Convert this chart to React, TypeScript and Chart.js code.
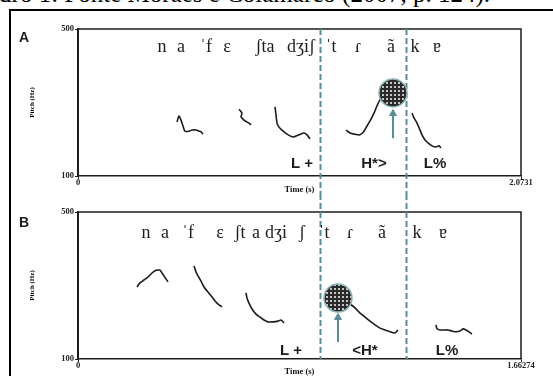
import React, { useEffect, useRef } from 'react';
import { Chart, registerables } from 'chart.js';

Chart.register(...registerables);

// ---------- data ----------
const durationA = 2.0731;
const durationB = 1.66274;
const pitchMin = 100;
const pitchMax = 500;

const trackA1: [number, number][] = [[0.4633, 247], [0.4727, 263], [0.482, 252], [0.4914, 236], [0.5007, 222], [0.5194, 222], [0.5335, 225], [0.5522, 225], [0.5662, 222], [0.5756, 220], [0.585, 214]];
const trackA2: [number, number][] = [[0.7534, 282], [0.7675, 271], [0.7628, 261], [0.7768, 252], [0.7908, 247], [0.8002, 244], [0.8096, 239]];
const trackA3: [number, number][] = [[0.9219, 288], [0.9266, 266], [0.9313, 244], [0.9406, 233], [0.9547, 225], [0.9781, 214], [1.0061, 206], [1.0342, 212], [1.0576, 217], [1.0717, 212], [1.0857, 201]];
const trackA4: [number, number][] = [[1.2542, 225], [1.2729, 217], [1.2916, 214], [1.3197, 212], [1.3384, 222], [1.3524, 236], [1.3712, 255], [1.3852, 271], [1.3992, 291], [1.4133, 307], [1.4273, 318]];
const trackA5: [number, number][] = [[1.563, 271], [1.5724, 258], [1.5864, 244], [1.6005, 225], [1.6098, 212], [1.6239, 198], [1.6379, 190], [1.6566, 182], [1.6753, 179], [1.6894, 182], [1.6987, 176]];
const peakA: [number, number] = [1.4741, 326];
const arrowA: [number, number][] = [[1.4741, 203], [1.4741, 270]];
const boundariesA = [1.1325, 1.5349];
const segmentsA: [string, number][] = [['n', 0.3931], ['a', 0.482], ['ˈf', 0.599], ['ɛ', 0.6973], ['ʃta', 0.8751], ['dʒiʃ', 1.0436], ['ˈt', 1.184], ['ɾ', 1.3103], ['ã', 1.4647], ['k', 1.5771], ['ɐ', 1.68]];
const tonesA: [string, number][] = [['L +', 1.0483], ['H*>', 1.3852], ['L%', 1.6707]];

const trackB1: [number, number][] = [[0.2214, 296], [0.2327, 307], [0.2477, 315], [0.2627, 323], [0.2778, 334], [0.289, 340], [0.3003, 342], [0.3078, 342], [0.3153, 334], [0.3228, 326], [0.3303, 318], [0.3378, 310]];
const trackB2: [number, number][] = [[0.4354, 353], [0.4429, 337], [0.4504, 326], [0.4617, 312], [0.4729, 296], [0.4879, 282], [0.503, 269], [0.518, 255], [0.5292, 247], [0.5405, 242]];
const trackB3: [number, number][] = [[0.6306, 280], [0.6343, 266], [0.6418, 252], [0.6531, 236], [0.6681, 222], [0.6831, 214], [0.6981, 206], [0.7131, 201], [0.7319, 201], [0.7507, 203], [0.7619, 206], [0.7732, 198]];
const trackB4: [number, number][] = [[1.0209, 250], [1.0397, 239], [1.0585, 225], [1.0773, 214], [1.096, 203], [1.1148, 193], [1.1335, 184], [1.1523, 179], [1.1711, 174], [1.1898, 171], [1.2011, 179]];
const trackB5: [number, number][] = [[1.3437, 193], [1.3475, 182], [1.3588, 179], [1.3737, 179], [1.3887, 179], [1.4038, 176], [1.4188, 174], [1.4338, 176], [1.4451, 182], [1.4564, 179], [1.4676, 174], [1.4788, 168]];
const peakB: [number, number] = [0.9759, 266];
const arrowB: [number, number][] = [[0.9759, 146], [0.9759, 213]];
const boundariesB = [0.9083, 1.2311];
const segmentsB: [string, number][] = [['n', 0.2552], ['a', 0.3265], ['ˈf', 0.4129], ['ɛ', 0.533], ['ʃt', 0.6081], ['a', 0.6681], ['dʒi', 0.7432], ['ʃ', 0.8408], ['ˈt', 0.9233], ['ɾ', 1.0209], ['ã', 1.141], ['k', 1.2724], ['ɐ', 1.37]];
const tonesB: [string, number][] = [['L +', 0.7995], ['<H*', 1.0772], ['L%', 1.385]];

// ---------- styles ----------
const TEAL = '#5b8d96';
const INK = '#1c1c1c';
const SERIF = '"Liberation Serif", "DejaVu Serif", serif';
const SANS = '"Liberation Sans", Arial, sans-serif';

type Panel = {
  letter: string;
  duration: number;
  tracks: [number, number][][];
  peak: [number, number];
  arrow: [number, number][];
  boundaries: number[];
  segments: [string, number][];
  tones: [string, number][];
  padTop: number;
  xAxisHeight: number;
  segOffset: number;
  toneOffset: number;
  letterOffset: number;
  dashUp: boolean;
};

const panelA: Panel = {
  letter: 'A', duration: durationA,
  tracks: [trackA1, trackA2, trackA3, trackA4, trackA5],
  peak: peakA, arrow: arrowA, boundaries: boundariesA, segments: segmentsA, tones: tonesA,
  padTop: 29, xAxisHeight: 18, segOffset: 23, toneOffset: 8, letterOffset: 13, dashUp: false,
};
const panelB: Panel = {
  letter: 'B', duration: durationB,
  tracks: [trackB1, trackB2, trackB3, trackB4, trackB5],
  peak: peakB, arrow: arrowB, boundaries: boundariesB, segments: segmentsB, tones: tonesB,
  padTop: 18, xAxisHeight: 17, segOffset: 26, toneOffset: 4, letterOffset: 15, dashUp: true,
};

function makePattern(): CanvasPattern | string {
  const c = document.createElement('canvas');
  c.width = 4; c.height = 4;
  const g = c.getContext('2d');
  if (!g) return '#444';
  g.fillStyle = '#2a2a2a';
  g.fillRect(0, 0, 4, 4);
  g.fillStyle = '#c4c4c4';
  g.fillRect(2, 2, 2, 2);
  const ctx = document.createElement('canvas').getContext('2d');
  return ctx ? (ctx.createPattern(c, 'repeat') as CanvasPattern) : '#444';
}

function makePlugin(p: Panel) {
  return {
    id: 'panelDecor' + p.letter,
    beforeDatasetsDraw(chart: any) {
      const { ctx, chartArea, scales } = chart;
      const { left, right, top, bottom } = chartArea;
      ctx.save();
      ctx.strokeStyle = INK;
      ctx.lineWidth = 1.5;
      ctx.beginPath();
      ctx.moveTo(left, top);
      ctx.lineTo(right, top);
      ctx.lineTo(right, bottom);
      ctx.stroke();
      ctx.strokeStyle = TEAL;
      ctx.lineWidth = 2;
      ctx.setLineDash([6, 3]);
      p.boundaries.forEach((t) => {
        const x = Math.round(scales.x.getPixelForValue(t)) + 0.5;
        ctx.beginPath();
        if (p.dashUp) {
          ctx.moveTo(x, 0);
          ctx.lineTo(x, bottom);
        } else {
          ctx.moveTo(x, top);
          ctx.lineTo(x, chart.height);
        }
        ctx.stroke();
      });
      ctx.restore();
    },
    afterDraw(chart: any) {
      const { ctx, chartArea, scales } = chart;
      ctx.save();
      ctx.fillStyle = INK;
      ctx.textAlign = 'center';
      ctx.textBaseline = 'alphabetic';
      ctx.font = `18px ${SERIF}`;
      p.segments.forEach(([s, t]) => {
        ctx.fillText(s, scales.x.getPixelForValue(t), chartArea.top + p.segOffset);
      });
      ctx.font = `bold 15px ${SANS}`;
      p.tones.forEach(([s, t]) => {
        ctx.fillText(s, scales.x.getPixelForValue(t), chartArea.bottom - p.toneOffset);
      });
      ctx.textAlign = 'left';
      ctx.font = `bold 14px ${SANS}`;
      ctx.fillText(p.letter, 19, chartArea.top + p.letterOffset);
      ctx.restore();
    },
  };
}

function makeConfig(p: Panel, pattern: CanvasPattern | string): any {
  const tickFont = { family: SERIF, size: 8.5, weight: 'bold' as const };
  const datasets: any[] = [
    {
      data: [{ x: p.peak[0], y: p.peak[1] }],
      pointRadius: 14,
      pointBackgroundColor: pattern,
      pointBorderColor: '#8db3b6',
      pointBorderWidth: 1.5,
      showLine: false,
    },
    {
      data: p.arrow.map(([x, y]) => ({ x, y })),
      showLine: true,
      borderColor: TEAL,
      borderWidth: 2,
      pointRadius: [0, 4],
      pointStyle: 'triangle',
      pointBackgroundColor: TEAL,
      pointBorderColor: TEAL,
      pointBorderWidth: 1,
    },
    ...p.tracks.map((tr) => ({
      data: tr.map(([x, y]) => ({ x, y })),
      showLine: true,
      borderColor: INK,
      borderWidth: 1.6,
      pointRadius: 0,
      tension: 0.25,
    })),
  ];
  return {
    type: 'scatter',
    data: { datasets },
    options: {
      animation: false,
      responsive: false,
      devicePixelRatio: 1,
      events: [],
      layout: { padding: { left: 0, right: 32, top: p.padTop, bottom: 0 } },
      plugins: { legend: { display: false }, tooltip: { enabled: false } },
      scales: {
        x: {
          type: 'linear',
          min: 0,
          max: p.duration,
          afterBuildTicks: (s: any) => { s.ticks = [{ value: 0 }, { value: p.duration }]; },
          afterFit: (s: any) => { s.height = p.xAxisHeight; },
          ticks: { callback: (v: any) => String(v), font: tickFont, color: '#222', padding: -1, maxRotation: 0, autoSkip: false },
          grid: { display: true, drawOnChartArea: false, drawTicks: true, tickLength: 3, color: INK, lineWidth: 1 },
          border: { display: true, color: INK, width: 1.5 },
          title: { display: true, text: 'Time (s)', font: tickFont, color: '#111', padding: { top: 0, bottom: -1 } },
        },
        y: {
          type: 'linear',
          min: pitchMin,
          max: pitchMax,
          afterBuildTicks: (s: any) => { s.ticks = [{ value: pitchMin }, { value: pitchMax }]; },
          afterFit: (s: any) => { s.width = 78; },
          ticks: { callback: (v: any) => String(v), font: tickFont, color: '#222', padding: 1, autoSkip: false },
          grid: { display: true, drawOnChartArea: false, drawTicks: true, tickLength: 3, color: INK, lineWidth: 1 },
          border: { display: true, color: INK, width: 2 },
          title: { display: true, text: 'Pitch (Hz)', font: { family: SERIF, size: 7, weight: 'bold' }, color: '#000', padding: { top: 28, bottom: 0 } },
        },
      },
    },
    plugins: [makePlugin(p)],
  };
}

export default function App() {
  const refA = useRef<HTMLCanvasElement>(null);
  const refB = useRef<HTMLCanvasElement>(null);

  useEffect(() => {
    const pattern = makePattern();
    const a = new Chart(refA.current as HTMLCanvasElement, makeConfig(panelA, pattern));
    const b = new Chart(refB.current as HTMLCanvasElement, makeConfig(panelB, pattern));
    return () => { a.destroy(); b.destroy(); };
  }, []);

  return (
    <div style={{ position: 'fixed', left: 0, top: 0, width: 553, height: 376, background: '#fff', overflow: 'hidden' }}>
      <div style={{ position: 'absolute', right: 63, top: -19, font: `25px ${SERIF}`, lineHeight: '25px', whiteSpace: 'nowrap', color: '#000' }}>
        Quadro 1: Fonte Moraes e Colamarco (2007, p. 124).
      </div>
      <div style={{ position: 'absolute', left: 9, top: 9, width: 700, height: 500, borderTop: '2px solid #000', borderLeft: '2px solid #000' }} />
      <canvas ref={refA} width={553} height={194} style={{ position: 'absolute', left: 0, top: 0, width: 553, height: 194 }} />
      <canvas ref={refB} width={553} height={182} style={{ position: 'absolute', left: 0, top: 194, width: 553, height: 182 }} />
    </div>
  );
}
